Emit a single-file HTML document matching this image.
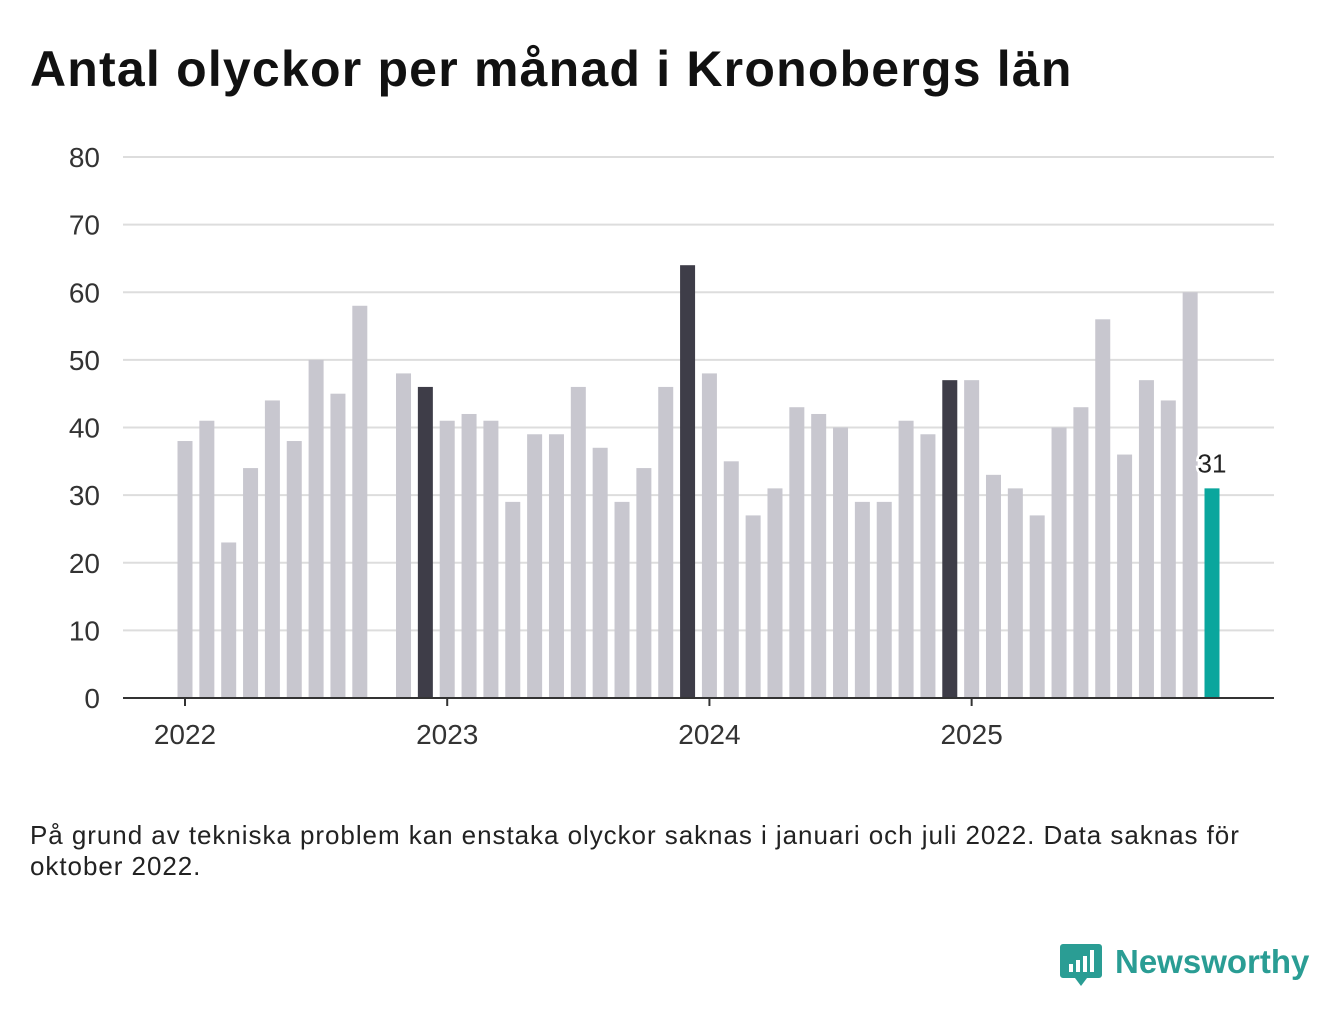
<!DOCTYPE html>
<html><head><meta charset="utf-8"><style>
body{margin:0;background:#fff;font-family:"Liberation Sans",sans-serif;}
#wrap{position:relative;width:1340px;height:1020px;overflow:hidden;}
h1{position:absolute;left:30px;top:40px;margin:0;font-size:50px;font-weight:bold;color:#111;letter-spacing:1.2px;}
#note{position:absolute;left:30px;top:820px;font-size:26px;line-height:31px;color:#222;width:1250px;letter-spacing:0.95px;}
#logo{position:absolute;left:1060px;top:940px;}
</style></head><body>
<div id="wrap">
<h1>Antal olyckor per månad i Kronobergs län</h1>
<svg id="chart" width="1340" height="1020" style="position:absolute;left:0;top:0"></svg>
<div id="note">På grund av tekniska problem kan enstaka olyckor saknas i januari och juli 2022. Data saknas för oktober 2022.</div>
<svg id="logo" width="260" height="55">
<path d="M3 4 h36 a3 3 0 0 1 3 3 v28 a3 3 0 0 1 -3 3 h-12 l-6 8 l-6 -8 h-12 a3 3 0 0 1 -3 -3 v-28 a3 3 0 0 1 3 -3z" fill="#2a9d94"/>
<rect x="9" y="24" width="4" height="8" fill="#fff"/><rect x="16" y="20" width="4" height="12" fill="#fff"/><rect x="23" y="16" width="4" height="16" fill="#fff"/><rect x="30" y="10" width="4" height="22" fill="#fff"/>
<text x="55" y="33" font-size="33" font-weight="bold" fill="#2a9d94" font-family="Liberation Sans, sans-serif">Newsworthy</text>
</svg>
</div>
<script>
const months=["2022-01","2022-02","2022-03","2022-04","2022-05","2022-06","2022-07","2022-08","2022-09","2022-10","2022-11","2022-12",
"2023-01","2023-02","2023-03","2023-04","2023-05","2023-06","2023-07","2023-08","2023-09","2023-10","2023-11","2023-12",
"2024-01","2024-02","2024-03","2024-04","2024-05","2024-06","2024-07","2024-08","2024-09","2024-10","2024-11","2024-12",
"2025-01","2025-02","2025-03","2025-04","2025-05","2025-06","2025-07","2025-08","2025-09","2025-10","2025-11","2025-12"];
const values=[38,41,23,34,44,38,50,45,58,null,48,46,
41,42,41,29,39,39,46,37,29,34,46,64,
48,35,27,31,43,42,40,29,29,41,39,47,
47,33,31,27,40,43,56,36,47,44,60,31];
const yTicks=[0,10,20,30,40,50,60,70,80];
const yearLabels=["2022","2023","2024","2025"];
const svg=document.getElementById('chart');const NS="http://www.w3.org/2000/svg";
const x0=185,step=(1212-185)/47,y0=698,yk=(698-157)/80,bw=15;
const xs=i=>x0+i*step, ys=v=>y0-v*yk;
function el(t,a,p){const e=document.createElementNS(NS,t);for(const k in a)e.setAttribute(k,a[k]);(p||svg).appendChild(e);return e;}
yTicks.forEach(t=>{
 if(t>0){const g=el('line',{x1:123,x2:1274,y1:ys(t),y2:ys(t),stroke:'#ddd','stroke-width':2});
 
 }
 const l=el('text',{x:100,y:ys(t)+10,'text-anchor':'end','font-size':28,fill:'#333'});l.textContent=t;
 
 
});
values.forEach((v,i)=>{
 if(v===null)return;
 const last=i===values.length-1;const dec=months[i].endsWith('-12');
 const r=el('rect',{x:xs(i)-bw/2,y:ys(v),width:bw,height:v*yk,fill:last?'#0aa69d':(dec?'#3e3d48':'#c8c7cf')});
 
 
 if(last){const t=el('text',{x:xs(i),y:ys(v)-16,'text-anchor':'middle','font-size':26,fill:'#222',stroke:'#fff','stroke-width':5,'paint-order':'stroke'});t.textContent=v;
 
 }
});
const ax=el('line',{x1:123,x2:1274,y1:y0,y2:y0,stroke:'#333','stroke-width':2});


yearLabels.forEach(y=>{
 const i=months.indexOf(y+'-01');
 const tk=el('line',{x1:xs(i),x2:xs(i),y1:y0,y2:y0+8,stroke:'#333','stroke-width':2});
 
 
 const t=el('text',{x:xs(i),y:744,'text-anchor':'middle','font-size':28,fill:'#333'});t.textContent=y;
 
 
});
</script>
</body></html>
